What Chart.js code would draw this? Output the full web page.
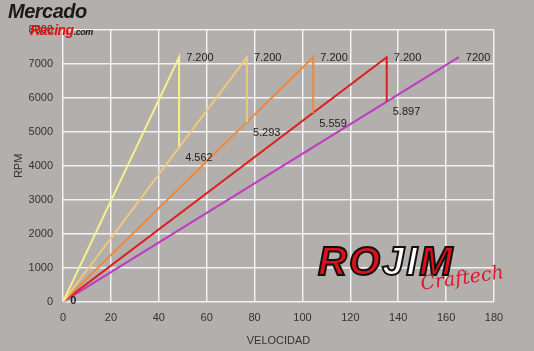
<!DOCTYPE html>
<html><head><meta charset="utf-8">
<script src="https://cdn.jsdelivr.net/npm/chart.js@4.4.0/dist/chart.umd.min.js"></script>
<style>
html,body{margin:0;padding:0;background:#b2afac;}
#wrap{position:relative;width:534px;height:351px;}
canvas{position:absolute;left:0;top:0;}
.wm1{position:absolute;left:8px;top:3px;font-family:"Liberation Sans",sans-serif;font-style:italic;font-weight:bold;font-size:20px;color:#1a1a1a;letter-spacing:-0.5px;line-height:17px;}
.wm1 span{color:#e01010;font-size:14px;margin-left:22px;}
.wm1 small{font-size:9px;color:#1a1a1a;}
.wm2{position:absolute;left:318px;top:240px;font-family:"Liberation Sans",sans-serif;font-style:italic;font-weight:900;font-size:40px;letter-spacing:2px;color:#e0101a;-webkit-text-stroke:2px #111;line-height:42px;}
.wm2 b{color:#fff;}
.wm3{position:absolute;left:420px;top:266px;font-family:"DejaVu Serif",serif;font-style:italic;font-size:19px;color:#d8192a;transform:rotate(-8deg);}
</style></head>
<body><div id="wrap"><canvas id="c" width="534" height="351"></canvas>
<div class="wm1">Mercado<br><span>Racing</span><small>.com</small></div>
<div class="wm2">RO<b>JI</b>M</div>
<div class="wm3">Craftech</div>
</div>
<script>
const xTicks = [0,20,40,60,80,100,120,140,160,180];
const yTicks = [0,1000,2000,3000,4000,5000,6000,7000,8000];
const gear1 = [{x:0,y:0},{x:48.5,y:7200},{x:48.5,y:4562}];
const gear2 = [{x:0,y:0},{x:76.8,y:7200},{x:76.8,y:5293}];
const gear3 = [{x:0,y:0},{x:104.5,y:7200},{x:104.5,y:5559}];
const gear4 = [{x:0,y:0},{x:135.2,y:7200},{x:135.2,y:5897}];
const gear5 = [{x:0,y:0},{x:165.3,y:7200}];
const gearColors = ['#f7f08c','#f2c97a','#ef8a3c','#dc1f1f','#c03cc0'];
const peakLabels = ['7.200','7.200','7.200','7.200','7200'];
const dropLabels = ['4.562','5.293','5.559','5.897',null];
const gears = [gear1,gear2,gear3,gear4,gear5];

const labelPlugin = {
  id:'labels',
  afterDatasetsDraw(chart){
    const ctx = chart.ctx, xs = chart.scales.x, ys = chart.scales.y;
    ctx.save();
    ctx.font = '11px "Liberation Sans", sans-serif';
    ctx.fillStyle = '#222';
    ctx.textBaseline = 'middle';
    ctx.textAlign = 'left';
    gears.forEach((g,i)=>{
      const p = g[1];
      ctx.fillText(peakLabels[i], xs.getPixelForValue(p.x)+7, ys.getPixelForValue(p.y)+1);
      if (dropLabels[i]) {
        const q = g[2];
        ctx.fillText(dropLabels[i], xs.getPixelForValue(q.x)+6, ys.getPixelForValue(q.y)+11);
      }
    });
    ctx.font = 'bold 11px "Liberation Sans", sans-serif';
    ctx.fillText('0', xs.getPixelForValue(3), ys.getPixelForValue(0)-1);
    ctx.restore();
  }
};

const fnt = {family:'"Liberation Sans", sans-serif', size:11};
new Chart(document.getElementById('c'), {
  type:'scatter',
  data:{datasets: gears.map((g,i)=>({data:g, showLine:true, borderColor:gearColors[i], backgroundColor:gearColors[i], borderWidth:2, pointRadius:0, tension:0}))},
  options:{
    responsive:false, animation:false,
    layout:{padding:{left:12,right:40,top:30,bottom:5}},
    plugins:{legend:{display:false}, tooltip:{enabled:false}},
    scales:{
      x:{type:'linear', min:0, max:180,
        afterBuildTicks(s){s.ticks = xTicks.map(v=>({value:v}));},
        grid:{color:'#f2f2f2', lineWidth:1.5, drawTicks:false},
        border:{display:false},
        ticks:{color:'#333', font:fnt, padding:10, callback:v=>String(v)},
        title:{display:true, text:'VELOCIDAD', color:'#333', font:{family:'"Liberation Sans", sans-serif', size:11, lineHeight:1}, padding:{top:0,bottom:0}}
      },
      y:{type:'linear', min:0, max:8000,
        afterBuildTicks(s){s.ticks = yTicks.map(v=>({value:v}));},
        afterFit(s){s.width = 51;},
        grid:{color:'#f2f2f2', lineWidth:1.5, drawTicks:false},
        border:{display:false},
        ticks:{color:'#333', font:fnt, padding:10, callback:v=>String(v)},
        title:{display:true, text:'RPM', color:'#333', font:fnt, padding:{top:0,bottom:6}}
      }
    }
  },
  plugins:[labelPlugin]
});
</script></body></html>
